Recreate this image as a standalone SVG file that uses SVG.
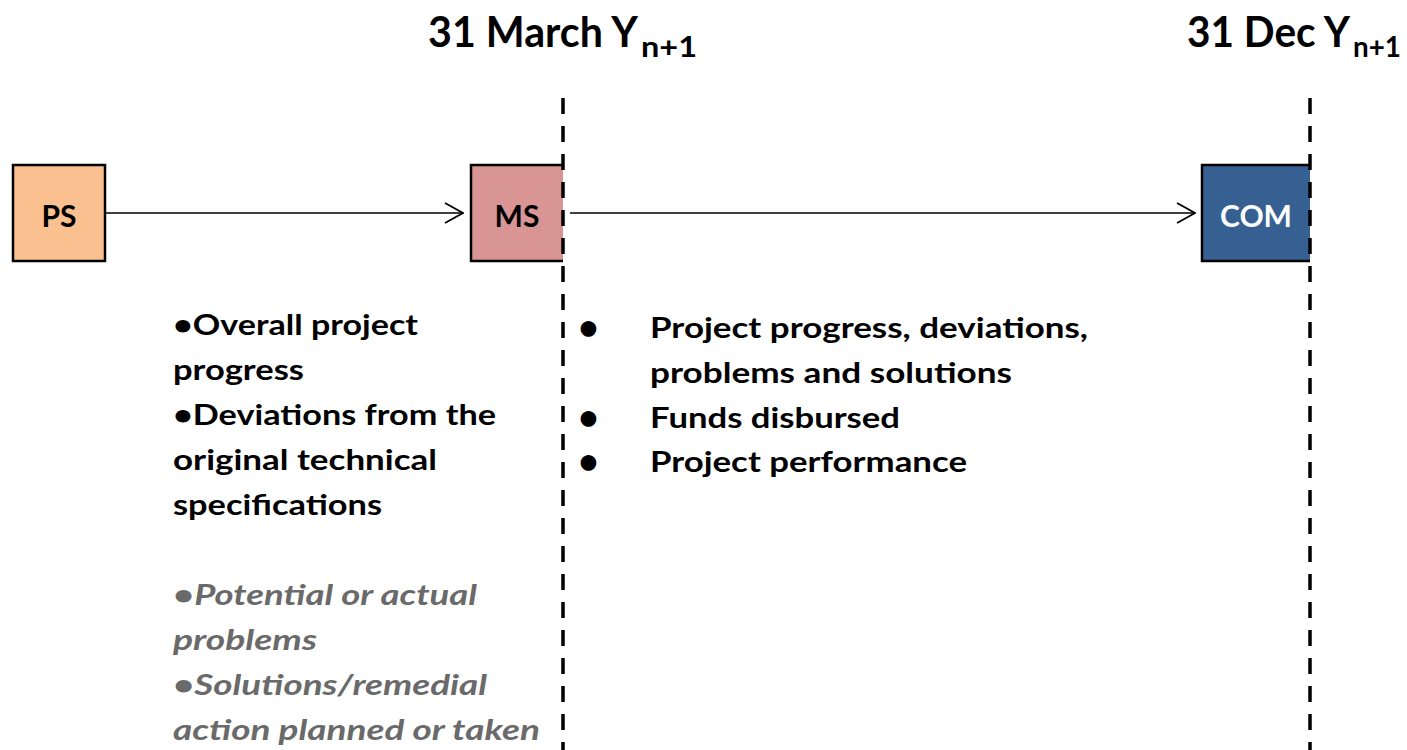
<svg xmlns="http://www.w3.org/2000/svg" width="1407" height="750" viewBox="0 0 1407 750">
<defs>
<style>
.t{font-family:Lato,"Liberation Sans",sans-serif;font-weight:bold;fill:#000}
.h{font-size:42px}
.sub{font-size:28px}
.b{font-size:28px}
.g{fill:#6a6a6a;font-style:italic}
.bul{font-size:36px}
.lbl{font-size:30px;text-anchor:middle}
.box{stroke:#000;stroke-width:2.5;fill:none}
.dash{stroke:#000;stroke-width:3.5;stroke-dasharray:16 12;fill:none}
.conn{stroke:#000;stroke-width:1.6;fill:none}
</style>
<marker id="arr" viewBox="0 0 20 22" refX="19" refY="11" markerWidth="20" markerHeight="22" markerUnits="userSpaceOnUse" orient="auto">
<path d="M1,1 L19,11 L1,21" fill="none" stroke="#000" stroke-width="1.8"/>
</marker>
</defs>
<rect width="1407" height="750" fill="#fff"/>
<g id="headings">
<text class="t h" x="428" y="47" textLength="210" lengthAdjust="spacingAndGlyphs">31 March Y</text>
<text class="t sub" x="641" y="57" textLength="56" lengthAdjust="spacingAndGlyphs">n+1</text>
<text class="t h" x="1187" y="47" textLength="163" lengthAdjust="spacingAndGlyphs">31 Dec Y</text>
<text class="t sub" x="1353" y="57" textLength="48" lengthAdjust="spacingAndGlyphs">n+1</text>
</g>
<g id="node-ps">
<rect x="13" y="165" width="92" height="96" fill="#FAC090"/>
<rect class="box" x="13" y="165" width="92" height="96"/>
<text class="t lbl" x="59" y="227">PS</text>
</g>
<g id="node-ms">
<rect x="471" y="165" width="92" height="96" fill="#D99594"/>
<path class="box" d="M563,165 H471 V261 H563"/>
<text class="t lbl" x="517" y="227">MS</text>
</g>
<g id="node-com">
<rect x="1202" y="165" width="108" height="96" fill="#376092"/>
<path class="box" d="M1310,165 H1202 V261 H1310"/>
<text class="t lbl" x="1256" y="227" style="fill:#fff">COM</text>
</g>
<g id="connectors">
<line class="dash" x1="563" y1="98" x2="563" y2="750"/>
<line class="dash" x1="1310" y1="98" x2="1310" y2="750"/>
<line class="conn" x1="105" y1="213" x2="463" y2="213" marker-end="url(#arr)"/>
<line class="conn" x1="570" y1="213" x2="1195" y2="213" marker-end="url(#arr)"/>
</g>
<g id="ms-notes">
<text class="t b" x="173" y="335" textLength="245" lengthAdjust="spacingAndGlyphs">•Overall project</text>
<text class="t b" x="173" y="380" textLength="131" lengthAdjust="spacingAndGlyphs">progress</text>
<text class="t b" x="173" y="425" textLength="323" lengthAdjust="spacingAndGlyphs">•Deviations from the</text>
<text class="t b" x="173" y="470" textLength="264" lengthAdjust="spacingAndGlyphs">original technical</text>
<text class="t b" x="173" y="515" textLength="209" lengthAdjust="spacingAndGlyphs">specifications</text>
<text class="t b g" x="173" y="605" textLength="304" lengthAdjust="spacingAndGlyphs">•Potential or actual</text>
<text class="t b g" x="173" y="650" textLength="144" lengthAdjust="spacingAndGlyphs">problems</text>
<text class="t b g" x="173" y="695" textLength="314" lengthAdjust="spacingAndGlyphs">•Solutions/remedial</text>
<text class="t b g" x="173" y="740" textLength="367" lengthAdjust="spacingAndGlyphs">action planned or taken</text>
</g>
<g id="com-notes">
<text class="t bul" x="578" y="340">•</text>
<text class="t bul" x="578" y="430">•</text>
<text class="t bul" x="578" y="474">•</text>
<text class="t b" x="650" y="338" textLength="438" lengthAdjust="spacingAndGlyphs">Project progress, deviations,</text>
<text class="t b" x="650" y="383" textLength="362" lengthAdjust="spacingAndGlyphs">problems and solutions</text>
<text class="t b" x="650" y="428" textLength="250" lengthAdjust="spacingAndGlyphs">Funds disbursed</text>
<text class="t b" x="650" y="472" textLength="317" lengthAdjust="spacingAndGlyphs">Project performance</text>
</g>
</svg>
